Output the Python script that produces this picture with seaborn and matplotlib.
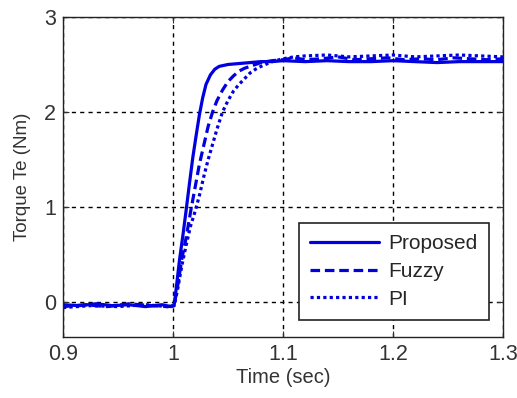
import matplotlib
matplotlib.use("Agg")
import matplotlib.pyplot as plt
import seaborn as sns
import pandas as pd

# ---- data ----
t_proposed = [0.900, 0.915, 0.930, 0.945, 0.960, 0.975, 0.990, 0.998, 1.001, 1.003, 1.006, 1.009,
              1.012, 1.015, 1.018, 1.021, 1.024, 1.027, 1.030, 1.034, 1.038, 1.042, 1.046,
              1.050, 1.060, 1.070, 1.080, 1.090, 1.100, 1.120, 1.140, 1.160, 1.180, 1.200,
              1.220, 1.240, 1.260, 1.280, 1.300]
v_proposed = [-0.03, -0.04, -0.02, -0.04, -0.03, -0.05, -0.03, -0.05, -0.04, 0.15, 0.45, 0.70,
              0.97, 1.25, 1.52, 1.75, 1.97, 2.15, 2.29, 2.39, 2.45, 2.48, 2.49,
              2.50, 2.51, 2.52, 2.53, 2.53, 2.54, 2.53, 2.54, 2.53, 2.53, 2.54,
              2.53, 2.52, 2.53, 2.53, 2.53]

t_fuzzy = [0.900, 0.920, 0.940, 0.960, 0.980, 0.995, 1.001, 1.004, 1.008, 1.012, 1.016, 1.020,
           1.024, 1.028, 1.032, 1.036, 1.040, 1.045, 1.050, 1.055, 1.060, 1.065, 1.070,
           1.075, 1.080, 1.090, 1.100, 1.110, 1.120, 1.135, 1.150, 1.165, 1.180, 1.195,
           1.210, 1.225, 1.240, 1.255, 1.270, 1.285, 1.300]
v_fuzzy = [-0.05, -0.03, -0.05, -0.02, -0.04, -0.05, -0.04, 0.15, 0.45, 0.68, 0.95, 1.20,
           1.45, 1.65, 1.85, 2.00, 2.12, 2.23, 2.32, 2.38, 2.43, 2.46, 2.48,
           2.50, 2.52, 2.54, 2.55, 2.57, 2.55, 2.56, 2.58, 2.55, 2.56, 2.57,
           2.55, 2.56, 2.55, 2.57, 2.56, 2.55, 2.56]

t_pi = [0.900, 0.925, 0.950, 0.975, 0.995, 1.001, 1.004, 1.008, 1.012, 1.016, 1.020, 1.024,
        1.028, 1.032, 1.036, 1.040, 1.045, 1.050, 1.055, 1.060, 1.065, 1.070, 1.075,
        1.080, 1.090, 1.100, 1.110, 1.120, 1.140, 1.160, 1.180, 1.200, 1.220, 1.240,
        1.260, 1.280, 1.300]
v_pi = [-0.06, -0.04, -0.05, -0.03, -0.05, -0.04, 0.12, 0.38, 0.60, 0.80, 0.95, 1.12,
        1.32, 1.50, 1.66, 1.82, 2.00, 2.12, 2.22, 2.29, 2.35, 2.41, 2.45,
        2.48, 2.53, 2.56, 2.58, 2.59, 2.60, 2.58, 2.59, 2.60, 2.58, 2.59,
        2.60, 2.59, 2.58]

x_ticks = [0.9, 1.0, 1.1, 1.2, 1.3]
x_tick_labels = ["0.9", "1", "1.1", "1.2", "1.3"]
y_ticks = [0, 1, 2, 3]

sns.set_style("white")
plt.rcParams["font.family"] = ["Liberation Sans", "DejaVu Sans"]

fig = plt.figure(figsize=(5.17, 3.98), dpi=100)
ax = fig.add_axes([63 / 517, 1 - 337 / 398, 440 / 517, 320 / 398])

blue = "#0000e0"
series = [("Proposed", t_proposed, v_proposed, "-"),
          ("Fuzzy", t_fuzzy, v_fuzzy, (0, (3, 1.5))),
          ("PI", t_pi, v_pi, (0, (1, 1)))]
for name, t, v, ls in series:
    df = pd.DataFrame({"t": t, "v": v})
    sns.lineplot(data=df, x="t", y="v", ax=ax, color=blue, linewidth=2.3,
                 linestyle=ls, label=name, sort=False, estimator=None)

ax.set_xlim(0.9, 1.3)
ax.set_ylim(-0.37, 3)
ax.set_xticks(x_ticks)
ax.set_xticklabels(x_tick_labels)
ax.set_yticks(y_ticks)
ax.tick_params(direction="in", length=4, labelsize=15.5, colors="#333333",
               top=True, right=True, bottom=True, left=True)
ax.tick_params(axis="x", pad=5)
ax.tick_params(axis="y", pad=5)
ax.grid(True, color="black", linestyle=(0, (3, 3)), linewidth=1)
for s in ax.spines.values():
    s.set_color("#222222")
    s.set_linewidth(1)
ax.set_xlabel("Time (sec)", fontsize=14.5, color="#333333", labelpad=2)
ax.set_ylabel("Torque Te (Nm)", fontsize=13.5, color="#333333", labelpad=9)

leg = ax.legend(loc="lower right", bbox_to_anchor=(489 / 517, 1 - 320 / 398),
                bbox_transform=fig.transFigure, borderaxespad=0, fontsize=15,
                handlelength=3.3, frameon=True, fancybox=False, edgecolor="#222222",
                framealpha=1, borderpad=0.55, labelspacing=0.42, handletextpad=0.45)
leg.get_frame().set_linewidth(1.2)

fig.savefig("out.png", dpi=100)
